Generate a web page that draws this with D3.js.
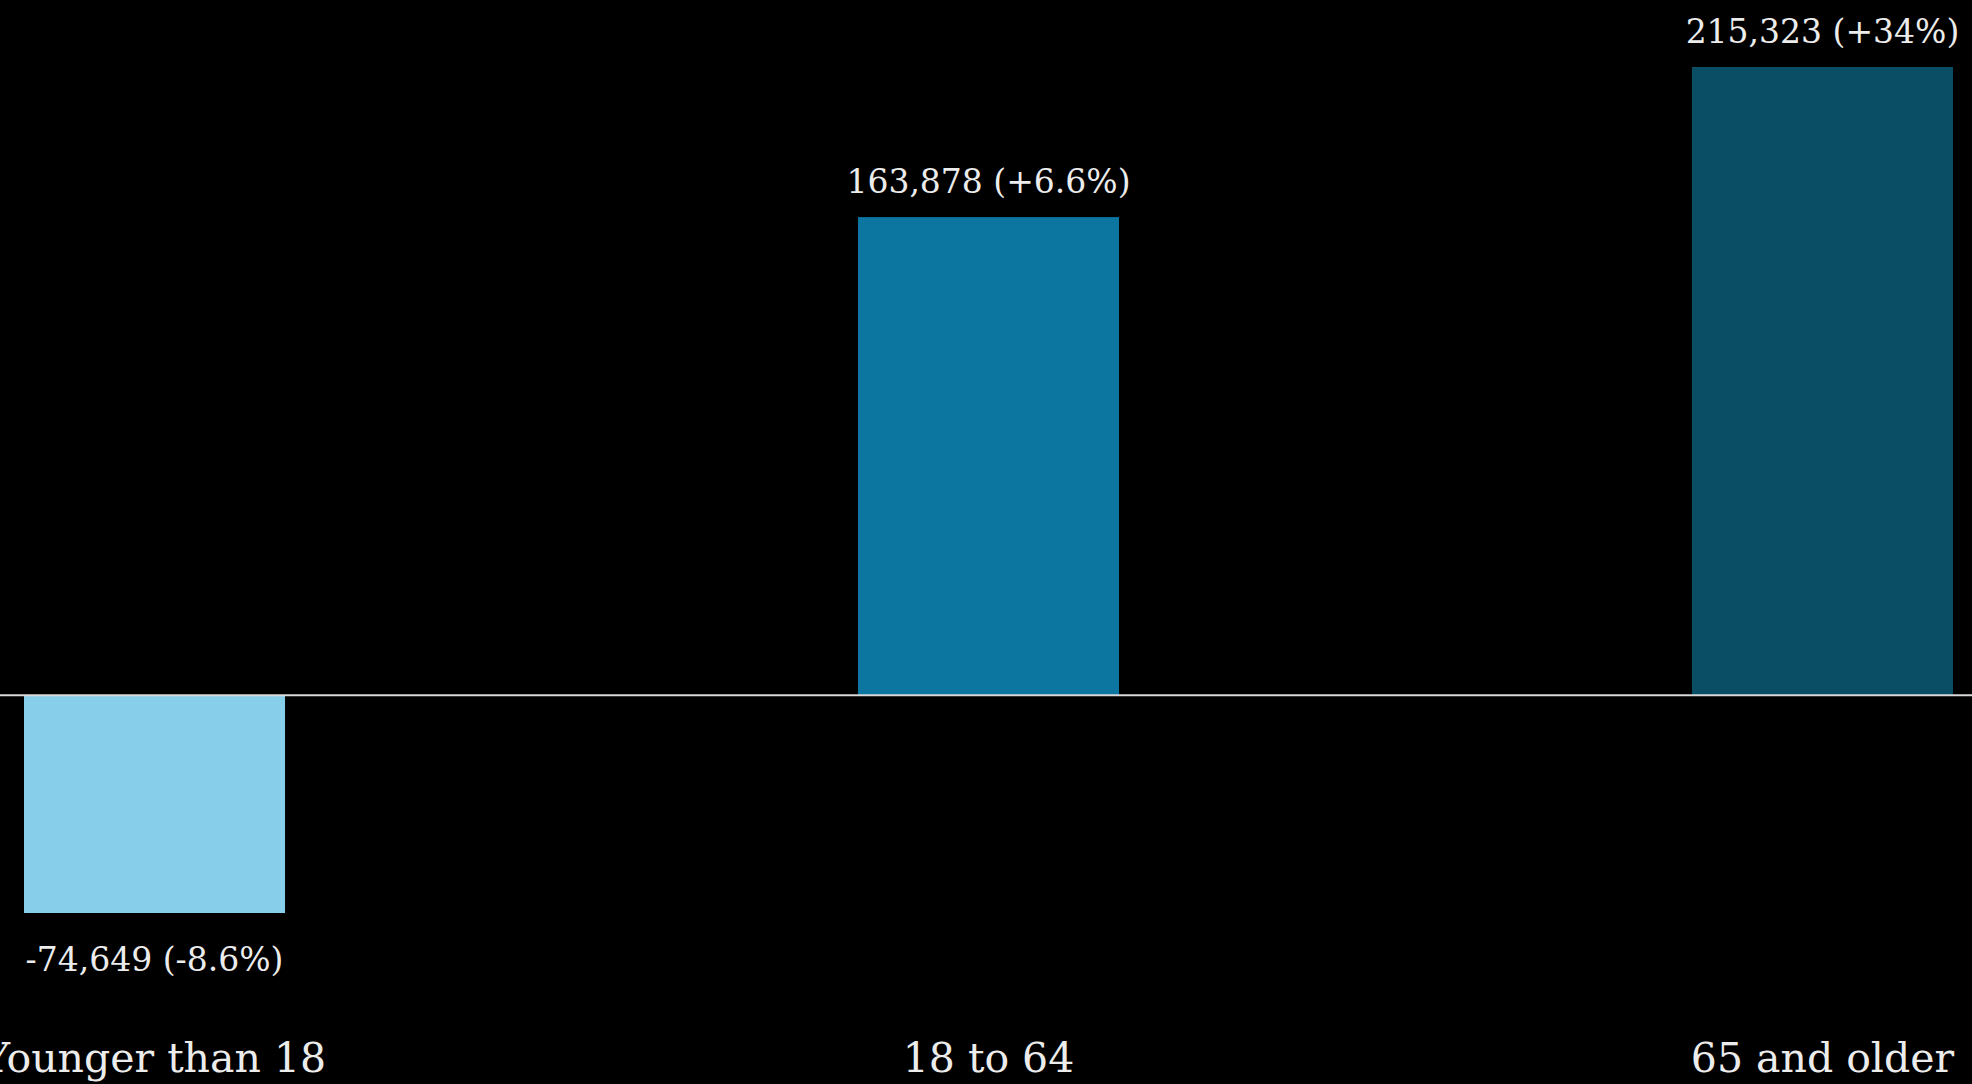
<!DOCTYPE html>
<html>
<head>
<meta charset="utf-8">
<script src="https://cdn.jsdelivr.net/npm/d3@7"></script>
<style>
  html, body { margin: 0; padding: 0; background: #000; }
  svg { display: block; }
  text { font-family: "Roboto Slab", "DejaVu Serif", serif; fill: #ececec; }
</style>
</head>
<body>
<svg id="chart" width="1972" height="1084"></svg>
<script>
// change in population by age group
const categories = ["Younger than 18", "18 to 64", "65 and older"]
const changes    = [-74649, 163878, 215323]
const pctLabels  = ["-8.6%", "+6.6%", "+34%"]
const barColors  = ["#87ceeb", "#0c75a0", "#0a4e66"]

const width = 1972, height = 1084
const svg = d3.select("#chart")

const x = d3.scaleBand()
  .domain(categories)
  .range([24, 1953])
  .paddingInner(0.687)
  .paddingOuter(0)

const y = d3.scaleLinear()
  .domain([-74649, 215323])
  .range([913, 67])

// plain hyphen for negatives, like the original
const fmt = d3.formatLocale({decimal: ".", thousands: ",", grouping: [3], currency: ["$", ""], minus: "-"}).format(",")
const rows = categories.map((c, i) => ({cat: c, val: changes[i], pct: pctLabels[i], color: barColors[i]}))

// bars
svg.append("g")
  .selectAll("rect")
  .data(rows)
  .join("rect")
  .attr("x", d => x(d.cat))
  .attr("width", x.bandwidth())
  .attr("y", d => y(Math.max(0, d.val)))
  .attr("height", d => Math.abs(y(d.val) - y(0)))
  .attr("fill", d => d.color)

// zero line
svg.append("line")
  .attr("x1", 0).attr("x2", width)
  .attr("y1", y(0)).attr("y2", y(0))
  .attr("stroke", "#d8d8d8")
  .attr("stroke-width", 2)

// value labels
svg.append("g")
  .selectAll("text")
  .data(rows)
  .join("text")
  .attr("x", d => x(d.cat) + x.bandwidth() / 2)
  .attr("y", d => d.val >= 0 ? y(d.val) - 24 : y(d.val) + 58)
  .attr("text-anchor", "middle")
  .style("font-size", "33px")
  .text(d => `${fmt(d.val)} (${d.pct})`)

// category axis labels
const xAxis = d3.axisBottom(x).tickSize(0).tickPadding(0)
const gx = svg.append("g")
  .attr("transform", `translate(0, 1072)`)
  .call(xAxis)
gx.select(".domain").remove()
gx.selectAll("text")
  .attr("dy", 0)
  .style("font-size", "41px")
  .style("fill", "#ececec")
</script>
</body>
</html>
